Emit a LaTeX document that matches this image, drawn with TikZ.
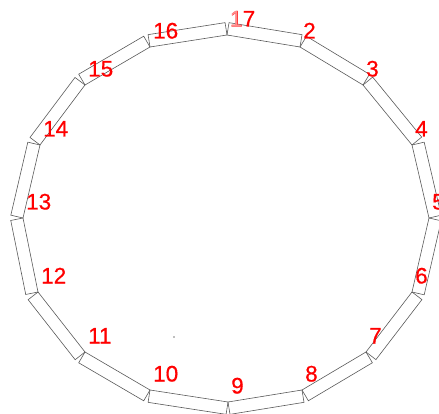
\documentclass[tikz,border=0pt]{standalone}
\usepackage{fontspec}
\setmainfont{Liberation Sans}
\usetikzlibrary{calc}
\begin{document}
\begin{tikzpicture}[x=1pt,y=-1pt,
  link/.style={draw=black!65, line width=0.6pt},
  lbl/.style={text=red, font=\fontsize{22.5}{27}\selectfont\addfontfeatures{FakeBold=0.6}, anchor=base west, inner sep=0pt}]
\useasboundingbox (0,0) rectangle (439,414);
\coordinate (v1) at (227,35);
\coordinate (v2) at (300,47);
\coordinate (v3) at (363,85);
\coordinate (v4) at (412,145);
\coordinate (v5) at (429,218);
\coordinate (v6) at (412,292);
\coordinate (v7) at (366,352);
\coordinate (v8) at (302,390);
\coordinate (v9) at (228,402);
\coordinate (v10) at (150,390);
\coordinate (v11) at (85,352);
\coordinate (v12) at (38,292);
\coordinate (v13) at (23,218);
\coordinate (v14) at (40,145);
\coordinate (v15) at (85,85);
\coordinate (v16) at (150,47);
\coordinate (v17) at (227,35);
\foreach \a/\b in {1/2,2/3,3/4,4/5,5/6,6/7,7/8,8/9,9/10,10/11,11/12,12/13,13/14,14/15,15/16,16/17}
  \draw[link] (v\a) -- (v\b) -- ($(v\b)!12.5pt!-90:(v\a)$) -- ($(v\a)!12.5pt!90:(v\b)$) -- cycle;
\foreach \i in {2,...,17}
  \node[lbl] (l\i) at ($(v\i)+(3,-8.5)$) {\i};
\node[lbl, text=red!45] (l1) at ($(v1)+(2.5,-8.5)$) {1};
\fill[gray!50] (173,336) rectangle (175,338);
\end{tikzpicture}
\end{document}
